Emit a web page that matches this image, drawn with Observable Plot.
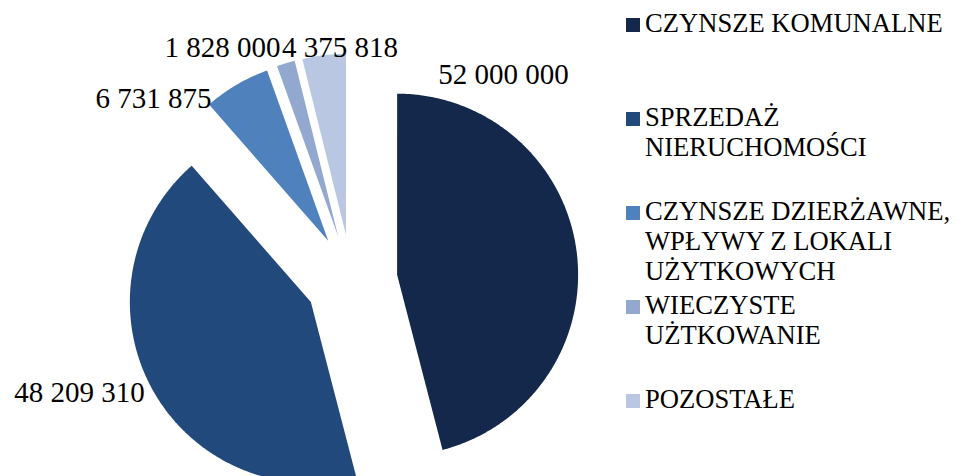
<!DOCTYPE html>
<html>
<head>
<meta charset="utf-8">
<script src="https://cdn.jsdelivr.net/npm/d3@7"></script>
<script src="https://cdn.jsdelivr.net/npm/@observablehq/plot@0.6"></script>
<style>
  html, body { margin: 0; padding: 0; background: #fff; overflow: hidden; }
  #wrap { position: relative; width: 956px; height: 476px; }
  .leg { position: absolute; font-family: "Liberation Serif", "Times New Roman", serif; font-size: 26.6px; line-height: 30px; color: #000; white-space: pre; }
  .sw { position: absolute; width: 14px; height: 14px; }
</style>
</head>
<body>
<div id="wrap"></div>
<script>
// ---- data ----
const categories = [
  "CZYNSZE KOMUNALNE",
  "SPRZEDAŻ\nNIERUCHOMOŚCI",
  "CZYNSZE DZIERŻAWNE,\nWPŁYWY Z LOKALI\nUŻYTKOWYCH",
  "WIECZYSTE\nUŻTKOWANIE",
  "POZOSTAŁE"
];
const values = [52000000, 48209310, 6731875, 1828000, 4375818];
const colors = ["#13284A", "#21497C", "#4F81BD", "#93A8CF", "#B9C7E2"];

// ---- layout (unit = pie radius) ----
const W = 956, H = 476;
const R = 181;            // px per unit radius
const cx = 351, cy = 280; // pie centre in px
const explode = 0.254;
const labelAngleDeg = [36.4, 247.6, 312.6, 331.0, 357.2];
const labelRadius = [1.414, 1.625, 1.486, 1.471, 1.289];

const fmt = d3.formatLocale({thousands: " ", grouping: [3], decimal: ","}).format(",d");

const arcs = d3.pie().sort(null).value(d => d)(values);
const poly = [];
arcs.forEach((a, i) => {
  const mid = (a.startAngle + a.endAngle) / 2;
  const ax = explode * Math.sin(mid), ay = explode * Math.cos(mid);
  const cat = categories[i];
  poly.push({cat, x: ax, y: ay});
  const n = Math.max(4, Math.ceil((a.endAngle - a.startAngle) / (Math.PI / 360)));
  for (let k = 0; k <= n; k++) {
    const t = a.startAngle + (a.endAngle - a.startAngle) * k / n;
    poly.push({cat, x: ax + Math.sin(t), y: ay + Math.cos(t)});
  }
  poly.push({cat, x: ax, y: ay});
});

const labels = values.map((v, i) => {
  const t = labelAngleDeg[i] * Math.PI / 180;
  return {text: fmt(v), x: labelRadius[i] * Math.sin(t), y: labelRadius[i] * Math.cos(t)};
});

const chart = Plot.plot({
  width: W, height: H,
  margin: 0,
  x: {domain: [-cx / R, (W - cx) / R], axis: null},
  y: {domain: [-(H - cy) / R, cy / R], axis: null},
  color: {domain: categories, range: colors, type: "ordinal"},
  style: {background: "white"},
  marks: [
    Plot.line(poly, {x: "x", y: "y", z: "cat", fill: "cat", stroke: null, curve: "linear"}),
    Plot.text(labels, {x: "x", y: "y", text: "text", fontSize: 29, fontFamily: "Liberation Serif, Times New Roman, serif", fill: "black", textAnchor: "middle", lineAnchor: "middle"})
  ]
});
const wrap = document.getElementById("wrap");
wrap.appendChild(chart);

// legend (HTML, overlaid on right)
categories.forEach((c, i) => {
  const top = 8 + 94 * i;
  const sw = document.createElement("div");
  sw.className = "sw";
  sw.style.left = "626px";
  sw.style.top = (top + 10) + "px";
  sw.style.background = colors[i];
  wrap.appendChild(sw);
  const t = document.createElement("div");
  t.className = "leg";
  t.style.left = "645px";
  t.style.top = top + "px";
  t.textContent = c;
  wrap.appendChild(t);
});
</script>
</body>
</html>
